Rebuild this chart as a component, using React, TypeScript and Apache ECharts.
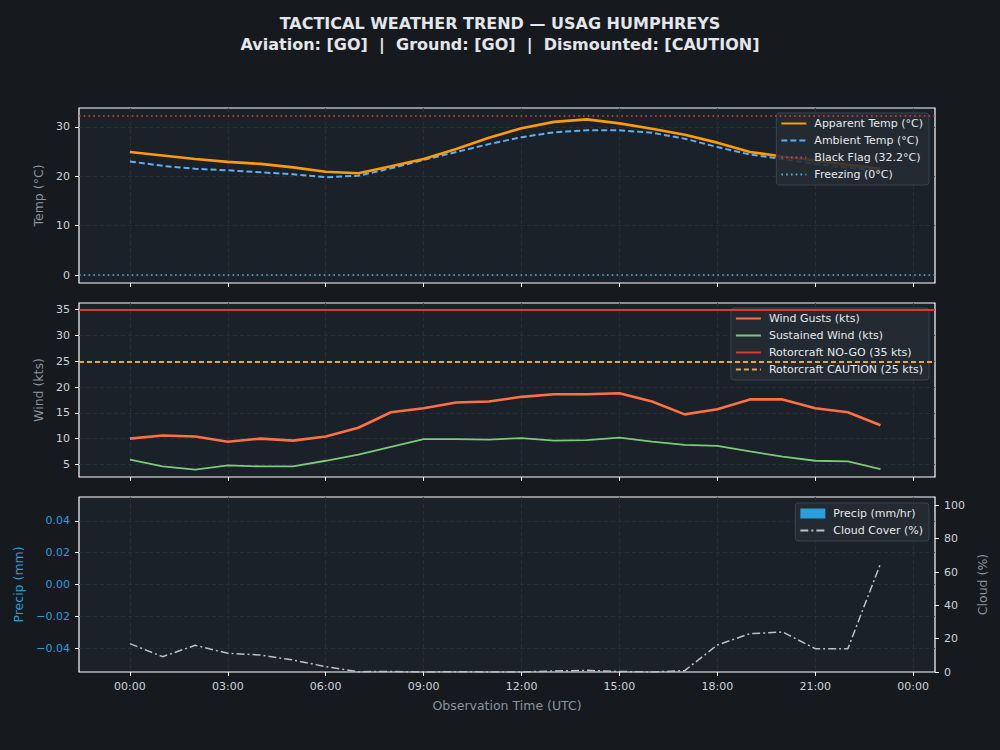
import React, { useEffect, useRef } from 'react';
import * as echarts from 'echarts';

// hourly observations, 00:00 .. 23:00 UTC
const hours = [0, 1, 2, 3, 4, 5, 6, 7, 8, 9, 10, 11, 12, 13, 14, 15, 16, 17, 18, 19, 20, 21, 22, 23];
const apparentTemp = [24.9, 24.2, 23.5, 22.9, 22.5, 21.8, 20.9, 20.6, 22.0, 23.5, 25.5, 27.8, 29.7, 31.0, 31.5, 30.7, 29.6, 28.4, 26.8, 24.9, 24.0, 23.2, 22.3, 21.5];
const ambientTemp = [23.0, 22.1, 21.5, 21.2, 20.8, 20.4, 19.8, 20.1, 21.6, 23.3, 24.9, 26.5, 27.9, 28.9, 29.3, 29.3, 28.8, 27.6, 25.9, 24.4, 23.5, 22.5, 21.7, 21.1];
const windGusts = [10.0, 10.6, 10.4, 9.4, 10.0, 9.6, 10.4, 12.1, 15.1, 15.9, 17.0, 17.2, 18.1, 18.6, 18.6, 18.8, 17.2, 14.7, 15.7, 17.6, 17.6, 15.9, 15.1, 12.6];
const sustainedWind = [5.9, 4.6, 4.0, 4.8, 4.6, 4.6, 5.7, 6.9, 8.4, 9.9, 9.9, 9.8, 10.1, 9.6, 9.7, 10.2, 9.4, 8.8, 8.6, 7.5, 6.5, 5.7, 5.6, 4.1];
const precip = [0, 0, 0, 0, 0, 0, 0, 0, 0, 0, 0, 0, 0, 0, 0, 0, 0, 0, 0, 0, 0, 0, 0, 0];
const cloudCover = [17.0, 9.2, 16.0, 11.2, 10.2, 7.2, 3.2, 0.2, 0.3, 0, 0.2, 0, 0, 0.6, 1.0, 0.3, 0, 0.8, 16.2, 23.0, 24.0, 14.0, 14.0, 65.0];

const blackFlag = 32.2;
const freezing = 0;
const rotorNoGo = 35;
const rotorCaution = 25;

const xTicks = [0, 3, 6, 9, 12, 15, 18, 21, 24];
const tempTicks = [0, 10, 20, 30];
const windTicks = [5, 10, 15, 20, 25, 30, 35];
const precipTicks = [-0.04, -0.02, 0, 0.02, 0.04];
const cloudTicks = [0, 20, 40, 60, 80, 100];

const titleLines = [
  'TACTICAL WEATHER TREND — USAG HUMPHREYS',
  'Aviation: [GO]  |  Ground: [GO]  |  Dismounted: [CAUTION]',
];

const FONT = 'DejaVu Sans';
const TICK = '#cdd2d7';
const LABEL = '#8b949e';
const GRIDLINE = '#2a323c';
const SPINE = '#ffffff';
const PRECIP_BLUE = '#2b9fd9';

const pairs = (ys: number[]) => hours.map((h, i) => [h, ys[i]]);
const hhmm = (v: number) => String(Math.round(v) % 24).padStart(2, '0') + ':00';

const xAxisFor = (gridIndex: number, withLabels: boolean) => ({
  type: 'value' as const,
  gridIndex,
  min: -1.56,
  max: 24.67,
  axisLine: { show: false, onZero: false },
  axisTick: { show: true, customValues: xTicks, length: 4, lineStyle: { color: SPINE } },
  axisLabel: {
    show: withLabels, customValues: xTicks, formatter: hhmm,
    color: TICK, fontSize: 11, fontFamily: FONT, margin: 9,
  },
  splitLine: { show: true, lineStyle: { color: GRIDLINE, type: [4, 3] as number[], width: 0.8 } },
  ...(withLabels ? {
    name: 'Observation Time (UTC)', nameLocation: 'middle' as const, nameGap: 27,
    nameTextStyle: { color: LABEL, fontSize: 12.5, fontFamily: FONT },
  } : {}),
});

const yAxisFor = (gridIndex: number, min: number, max: number, ticks: number[], name: string,
  nameGap: number, opts: any = {}) => ({
  type: 'value' as const,
  gridIndex,
  min,
  max,
  name,
  nameLocation: 'middle' as const,
  nameGap,
  nameTextStyle: { color: opts.nameColor || LABEL, fontSize: 12.5, fontFamily: FONT },
  position: opts.position || 'left',
  axisLine: { show: false, onZero: false },
  axisTick: { show: true, customValues: ticks, length: 4, lineStyle: { color: SPINE } },
  axisLabel: {
    customValues: ticks, color: opts.labelColor || TICK, fontSize: 11, fontFamily: FONT, margin: 9,
    formatter: opts.formatter,
  },
  splitLine: { show: opts.split !== false, lineStyle: { color: GRIDLINE, type: [4, 3] as number[], width: 0.8 } },
});

const thresholdSeries = (name: string, value: number, x: number, y: number, color: string,
  type: any, width: number) => ({
  name,
  type: 'line' as const,
  xAxisIndex: x,
  yAxisIndex: y,
  data: [] as number[][],
  symbol: 'none',
  lineStyle: { color, type, width },
  itemStyle: { color },
  markLine: {
    silent: true,
    symbol: 'none',
    label: { show: false },
    lineStyle: { color, type, width },
    emphasis: { disabled: true },
    data: [{ yAxis: value }],
  },
});

const legendBase = {
  orient: 'vertical' as const,
  align: 'left' as const,
  itemWidth: 25,
  itemHeight: 10,
  itemGap: 6,
  padding: [5, 6, 5, 4],
  backgroundColor: 'rgba(36,43,51,0.88)',
  borderColor: '#3a434d',
  borderWidth: 1,
  borderRadius: 3,
  textStyle: { color: '#e6e9ec', fontSize: 11, fontFamily: FONT, padding: [0, 0, 0, 3] },
};

// line entries: hide the marker ECharts puts on the legend line
const lineItem = (name: string) => ({ name, itemStyle: { opacity: 0 } });

const App: React.FC = () => {
  const chartRef = useRef<HTMLDivElement>(null);

  useEffect(() => {
    if (!chartRef.current) return;
    const chart = echarts.init(chartRef.current, undefined, { renderer: 'svg' });

    const option: any = {
      animation: false,
      backgroundColor: '#161a1f',
      textStyle: { fontFamily: FONT },
      title: titleLines.map((t, i) => ({
        text: t,
        left: 'center',
        top: 10 + i * 21,
        textStyle: { color: '#e3e6ea', fontSize: 16, fontWeight: 'bold', fontFamily: FONT },
      })),
      grid: [
        { left: 79, top: 108, width: 856, height: 175 },
        { left: 79, top: 303, width: 856, height: 174 },
        { left: 79, top: 497, width: 856, height: 175 },
      ].map((g) => ({ ...g, show: true, backgroundColor: '#1b2129', borderColor: SPINE, borderWidth: 1.2, containLabel: false })),
      xAxis: [xAxisFor(0, false), xAxisFor(1, false), xAxisFor(2, true)],
      yAxis: [
        yAxisFor(0, -1.61, 33.81, tempTicks, 'Temp (°C)', 31),
        yAxisFor(1, 2.55, 36.3, windTicks, 'Wind (kts)', 31),
        yAxisFor(2, -0.055, 0.055, precipTicks, 'Precip (mm)', 51, {
          labelColor: PRECIP_BLUE, nameColor: PRECIP_BLUE,
          formatter: (v: number) => v.toFixed(2).replace('-', '\u2212'),
        }),
        yAxisFor(2, 0, 105, cloudTicks, 'Cloud (%)', 36, { position: 'right', split: false }),
      ],
      legend: [
        {
          ...legendBase, right: 71, top: 113,
          data: ['Apparent Temp (°C)', 'Ambient Temp (°C)', 'Black Flag (32.2°C)', 'Freezing (0°C)'].map(lineItem),
        },
        {
          ...legendBase, right: 71, top: 308,
          data: ['Wind Gusts (kts)', 'Sustained Wind (kts)', 'Rotorcraft NO-GO (35 kts)', 'Rotorcraft CAUTION (25 kts)'].map(lineItem),
        },
        {
          ...legendBase, right: 71, top: 503,
          data: [{ name: 'Precip (mm/hr)', icon: 'rect' }, lineItem('Cloud Cover (%)')],
        },
      ],
      series: [
        thresholdSeries('Black Flag (32.2°C)', blackFlag, 0, 0, '#e0403c', [1.6, 3.2], 1.6),
        thresholdSeries('Freezing (0°C)', freezing, 0, 0, '#4fb0e3', [1.6, 3.2], 1.6),
        {
          name: 'Ambient Temp (°C)', type: 'line', xAxisIndex: 0, yAxisIndex: 0,
          data: pairs(ambientTemp), symbol: 'none',
          lineStyle: { color: '#5eb0f2', width: 2, type: [6, 3] }, itemStyle: { color: '#5eb0f2' },
        },
        {
          name: 'Apparent Temp (°C)', type: 'line', xAxisIndex: 0, yAxisIndex: 0,
          data: pairs(apparentTemp), symbol: 'none',
          lineStyle: { color: '#ff9a0a', width: 2.6 }, itemStyle: { color: '#ff9a0a' },
        },
        thresholdSeries('Rotorcraft NO-GO (35 kts)', rotorNoGo, 1, 1, '#e2353a', 'solid', 2),
        thresholdSeries('Rotorcraft CAUTION (25 kts)', rotorCaution, 1, 1, '#f0a33c', [5, 3], 1.8),
        {
          name: 'Sustained Wind (kts)', type: 'line', xAxisIndex: 1, yAxisIndex: 1,
          data: pairs(sustainedWind), symbol: 'none',
          lineStyle: { color: '#7ccb7a', width: 1.8 }, itemStyle: { color: '#7ccb7a' },
        },
        {
          name: 'Wind Gusts (kts)', type: 'line', xAxisIndex: 1, yAxisIndex: 1,
          data: pairs(windGusts), symbol: 'none',
          lineStyle: { color: '#ff7043', width: 2.6 }, itemStyle: { color: '#ff7043' },
        },
        {
          name: 'Precip (mm/hr)', type: 'bar', xAxisIndex: 2, yAxisIndex: 2,
          data: pairs(precip), barWidth: 26,
          itemStyle: { color: PRECIP_BLUE },
        },
        {
          name: 'Cloud Cover (%)', type: 'line', xAxisIndex: 2, yAxisIndex: 3,
          data: pairs(cloudCover), symbol: 'none',
          lineStyle: { color: '#b9c1c9', width: 1.5, type: [8, 3, 2, 3] }, itemStyle: { color: '#b9c1c9' },
        },
      ],
    };

    chart.setOption(option);
    return () => {
      chart.dispose();
    };
  }, []);

  return (
    <div
      ref={chartRef}
      style={{ position: 'fixed', left: 0, top: 0, width: 1000, height: 750 }}
    />
  );
};

export default App;
